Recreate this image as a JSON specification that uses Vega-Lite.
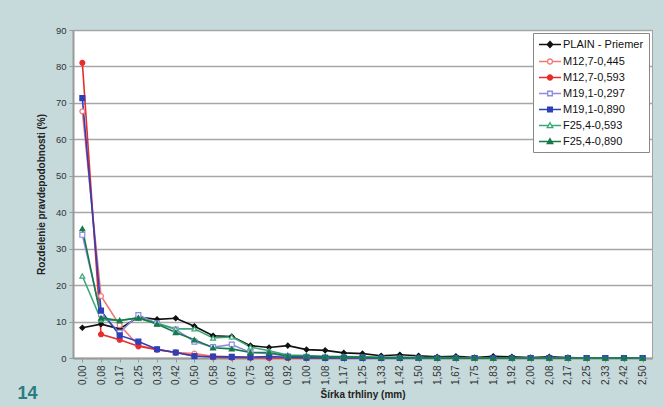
{
  "$schema": "https://vega.github.io/schema/vega-lite/v6.json",
  "width": 579,
  "height": 328,
  "autosize": {"type": "none"},
  "padding": {"left": 73, "top": 30, "right": 12, "bottom": 49},
  "background": "#c6dadb",
  "config": {
    "font": "Liberation Sans",
    "view": {"fill": "white", "stroke": "#a0a0a0", "strokeWidth": 1},
    "axisY": {"domainColor": "#999999", "domainWidth": 2, "gridColor": "#a6a6a6", "gridWidth": 1.5, "tickColor": "#999999", "tickSize": 4, "labelFontSize": 9.5, "labelColor": "#333333", "labelPadding": 3, "titleFontSize": 10, "titleFontWeight": "bold", "titleColor": "#222222", "titlePadding": 9},
    "axisX": {"domainColor": "#999999", "domainWidth": 2, "tickColor": "#999999", "tickSize": 4, "labelAngle": -90, "labelFontSize": 10, "labelColor": "#333333", "labelPadding": 3, "titleFontSize": 10, "titleFontWeight": "bold", "titleColor": "#222222", "titlePadding": 5, "grid": false},
    "legend": {"orient": "top-right", "offset": 3, "fillColor": "white", "strokeColor": "#888888", "padding": 5, "labelFont": "Liberation Sans", "labelFontSize": 11, "labelColor": "#111111", "symbolSize": 121, "symbolStrokeWidth": 1.4, "symbolOffset": 5.5, "labelOffset": 6.5, "rowPadding": 4, "symbolOpacity": 1}
  },
  "title": {"text": "14", "orient": "bottom", "anchor": "start", "color": "#2b7d82", "fontSize": 18, "fontWeight": "bold", "font": "Liberation Sans", "offset": 0, "dx": -19, "dy": -14},
  "data": {"values": [
    {"x":"0,00","s":"PLAIN - Priemer","v":8.3},{"x":"0,08","s":"PLAIN - Priemer","v":9.3},{"x":"0,17","s":"PLAIN - Priemer","v":8.0},{"x":"0,25","s":"PLAIN - Priemer","v":11.2},{"x":"0,33","s":"PLAIN - Priemer","v":10.6},{"x":"0,42","s":"PLAIN - Priemer","v":10.9},{"x":"0,50","s":"PLAIN - Priemer","v":8.7},{"x":"0,58","s":"PLAIN - Priemer","v":6.1},{"x":"0,67","s":"PLAIN - Priemer","v":5.9},{"x":"0,75","s":"PLAIN - Priemer","v":3.4},{"x":"0,83","s":"PLAIN - Priemer","v":2.9},{"x":"0,92","s":"PLAIN - Priemer","v":3.4},{"x":"1,00","s":"PLAIN - Priemer","v":2.3},{"x":"1,08","s":"PLAIN - Priemer","v":2.1},{"x":"1,17","s":"PLAIN - Priemer","v":1.4},{"x":"1,25","s":"PLAIN - Priemer","v":1.2},{"x":"1,33","s":"PLAIN - Priemer","v":0.6},{"x":"1,42","s":"PLAIN - Priemer","v":0.9},{"x":"1,50","s":"PLAIN - Priemer","v":0.6},{"x":"1,58","s":"PLAIN - Priemer","v":0.3},{"x":"1,67","s":"PLAIN - Priemer","v":0.5},{"x":"1,75","s":"PLAIN - Priemer","v":0.1},{"x":"1,83","s":"PLAIN - Priemer","v":0.5},{"x":"1,92","s":"PLAIN - Priemer","v":0.3},{"x":"2,00","s":"PLAIN - Priemer","v":0.1},{"x":"2,08","s":"PLAIN - Priemer","v":0.3},{"x":"2,17","s":"PLAIN - Priemer","v":0.1},{"x":"2,25","s":"PLAIN - Priemer","v":0},{"x":"2,33","s":"PLAIN - Priemer","v":0},{"x":"2,42","s":"PLAIN - Priemer","v":0},{"x":"2,50","s":"PLAIN - Priemer","v":0},
    {"x":"0,00","s":"M12,7-0,445","v":67.7},{"x":"0,08","s":"M12,7-0,445","v":17},{"x":"0,17","s":"M12,7-0,445","v":9},{"x":"0,25","s":"M12,7-0,445","v":3.5},{"x":"0,33","s":"M12,7-0,445","v":2.3},{"x":"0,42","s":"M12,7-0,445","v":1.5},{"x":"0,50","s":"M12,7-0,445","v":1.2},{"x":"0,58","s":"M12,7-0,445","v":0.5},{"x":"0,67","s":"M12,7-0,445","v":0.3},{"x":"0,75","s":"M12,7-0,445","v":0.2},{"x":"0,83","s":"M12,7-0,445","v":0.1},{"x":"0,92","s":"M12,7-0,445","v":0},{"x":"1,00","s":"M12,7-0,445","v":0},{"x":"1,08","s":"M12,7-0,445","v":0},{"x":"1,17","s":"M12,7-0,445","v":0},{"x":"1,25","s":"M12,7-0,445","v":0},{"x":"1,33","s":"M12,7-0,445","v":0},{"x":"1,42","s":"M12,7-0,445","v":0},{"x":"1,50","s":"M12,7-0,445","v":0},{"x":"1,58","s":"M12,7-0,445","v":0},{"x":"1,67","s":"M12,7-0,445","v":0},{"x":"1,75","s":"M12,7-0,445","v":0},{"x":"1,83","s":"M12,7-0,445","v":0},{"x":"1,92","s":"M12,7-0,445","v":0},{"x":"2,00","s":"M12,7-0,445","v":0},{"x":"2,08","s":"M12,7-0,445","v":0},{"x":"2,17","s":"M12,7-0,445","v":0},{"x":"2,25","s":"M12,7-0,445","v":0},{"x":"2,33","s":"M12,7-0,445","v":0},{"x":"2,42","s":"M12,7-0,445","v":0},{"x":"2,50","s":"M12,7-0,445","v":0},
    {"x":"0,00","s":"M12,7-0,593","v":81},{"x":"0,08","s":"M12,7-0,593","v":6.5},{"x":"0,17","s":"M12,7-0,593","v":5.0},{"x":"0,25","s":"M12,7-0,593","v":3.2},{"x":"0,33","s":"M12,7-0,593","v":2.3},{"x":"0,42","s":"M12,7-0,593","v":1.5},{"x":"0,50","s":"M12,7-0,593","v":0.6},{"x":"0,58","s":"M12,7-0,593","v":0.2},{"x":"0,67","s":"M12,7-0,593","v":0.1},{"x":"0,75","s":"M12,7-0,593","v":0.1},{"x":"0,83","s":"M12,7-0,593","v":0},{"x":"0,92","s":"M12,7-0,593","v":0},{"x":"1,00","s":"M12,7-0,593","v":0},{"x":"1,08","s":"M12,7-0,593","v":0},{"x":"1,17","s":"M12,7-0,593","v":0},{"x":"1,25","s":"M12,7-0,593","v":0},{"x":"1,33","s":"M12,7-0,593","v":0},{"x":"1,42","s":"M12,7-0,593","v":0},{"x":"1,50","s":"M12,7-0,593","v":0},{"x":"1,58","s":"M12,7-0,593","v":0},{"x":"1,67","s":"M12,7-0,593","v":0},{"x":"1,75","s":"M12,7-0,593","v":0},{"x":"1,83","s":"M12,7-0,593","v":0},{"x":"1,92","s":"M12,7-0,593","v":0},{"x":"2,00","s":"M12,7-0,593","v":0},{"x":"2,08","s":"M12,7-0,593","v":0},{"x":"2,17","s":"M12,7-0,593","v":0},{"x":"2,25","s":"M12,7-0,593","v":0},{"x":"2,33","s":"M12,7-0,593","v":0},{"x":"2,42","s":"M12,7-0,593","v":0},{"x":"2,50","s":"M12,7-0,593","v":0},
    {"x":"0,00","s":"M19,1-0,297","v":33.8},{"x":"0,08","s":"M19,1-0,297","v":12},{"x":"0,17","s":"M19,1-0,297","v":7},{"x":"0,25","s":"M19,1-0,297","v":11.8},{"x":"0,33","s":"M19,1-0,297","v":9.5},{"x":"0,42","s":"M19,1-0,297","v":7.8},{"x":"0,50","s":"M19,1-0,297","v":4.5},{"x":"0,58","s":"M19,1-0,297","v":3},{"x":"0,67","s":"M19,1-0,297","v":3.7},{"x":"0,75","s":"M19,1-0,297","v":1.5},{"x":"0,83","s":"M19,1-0,297","v":1.2},{"x":"0,92","s":"M19,1-0,297","v":0.5},{"x":"1,00","s":"M19,1-0,297","v":0.3},{"x":"1,08","s":"M19,1-0,297","v":0.2},{"x":"1,17","s":"M19,1-0,297","v":0.1},{"x":"1,25","s":"M19,1-0,297","v":0.1},{"x":"1,33","s":"M19,1-0,297","v":0},{"x":"1,42","s":"M19,1-0,297","v":0},{"x":"1,50","s":"M19,1-0,297","v":0},{"x":"1,58","s":"M19,1-0,297","v":0},{"x":"1,67","s":"M19,1-0,297","v":0},{"x":"1,75","s":"M19,1-0,297","v":0},{"x":"1,83","s":"M19,1-0,297","v":0},{"x":"1,92","s":"M19,1-0,297","v":0},{"x":"2,00","s":"M19,1-0,297","v":0},{"x":"2,08","s":"M19,1-0,297","v":0},{"x":"2,17","s":"M19,1-0,297","v":0},{"x":"2,25","s":"M19,1-0,297","v":0},{"x":"2,33","s":"M19,1-0,297","v":0},{"x":"2,42","s":"M19,1-0,297","v":0},{"x":"2,50","s":"M19,1-0,297","v":0},
    {"x":"0,00","s":"M19,1-0,890","v":71.3},{"x":"0,08","s":"M19,1-0,890","v":13},{"x":"0,17","s":"M19,1-0,890","v":6.2},{"x":"0,25","s":"M19,1-0,890","v":4.5},{"x":"0,33","s":"M19,1-0,890","v":2.4},{"x":"0,42","s":"M19,1-0,890","v":1.5},{"x":"0,50","s":"M19,1-0,890","v":0.5},{"x":"0,58","s":"M19,1-0,890","v":0.4},{"x":"0,67","s":"M19,1-0,890","v":0.3},{"x":"0,75","s":"M19,1-0,890","v":0.2},{"x":"0,83","s":"M19,1-0,890","v":0.4},{"x":"0,92","s":"M19,1-0,890","v":0.2},{"x":"1,00","s":"M19,1-0,890","v":0.1},{"x":"1,08","s":"M19,1-0,890","v":0},{"x":"1,17","s":"M19,1-0,890","v":0},{"x":"1,25","s":"M19,1-0,890","v":0},{"x":"1,33","s":"M19,1-0,890","v":0},{"x":"1,42","s":"M19,1-0,890","v":0},{"x":"1,50","s":"M19,1-0,890","v":0},{"x":"1,58","s":"M19,1-0,890","v":0},{"x":"1,67","s":"M19,1-0,890","v":0},{"x":"1,75","s":"M19,1-0,890","v":0},{"x":"1,83","s":"M19,1-0,890","v":0},{"x":"1,92","s":"M19,1-0,890","v":0},{"x":"2,00","s":"M19,1-0,890","v":0},{"x":"2,08","s":"M19,1-0,890","v":0},{"x":"2,17","s":"M19,1-0,890","v":0},{"x":"2,25","s":"M19,1-0,890","v":0},{"x":"2,33","s":"M19,1-0,890","v":0},{"x":"2,42","s":"M19,1-0,890","v":0},{"x":"2,50","s":"M19,1-0,890","v":0},
    {"x":"0,00","s":"F25,4-0,593","v":22.5},{"x":"0,08","s":"F25,4-0,593","v":10.5},{"x":"0,17","s":"F25,4-0,593","v":10.3},{"x":"0,25","s":"F25,4-0,593","v":11},{"x":"0,33","s":"F25,4-0,593","v":9.5},{"x":"0,42","s":"F25,4-0,593","v":8},{"x":"0,50","s":"F25,4-0,593","v":8},{"x":"0,58","s":"F25,4-0,593","v":5.5},{"x":"0,67","s":"F25,4-0,593","v":5.8},{"x":"0,75","s":"F25,4-0,593","v":3},{"x":"0,83","s":"F25,4-0,593","v":2},{"x":"0,92","s":"F25,4-0,593","v":0.8},{"x":"1,00","s":"F25,4-0,593","v":0.7},{"x":"1,08","s":"F25,4-0,593","v":0.5},{"x":"1,17","s":"F25,4-0,593","v":0.4},{"x":"1,25","s":"F25,4-0,593","v":0.3},{"x":"1,33","s":"F25,4-0,593","v":0.2},{"x":"1,42","s":"F25,4-0,593","v":0.2},{"x":"1,50","s":"F25,4-0,593","v":0.1},{"x":"1,58","s":"F25,4-0,593","v":0.1},{"x":"1,67","s":"F25,4-0,593","v":0.1},{"x":"1,75","s":"F25,4-0,593","v":0},{"x":"1,83","s":"F25,4-0,593","v":0},{"x":"1,92","s":"F25,4-0,593","v":0},{"x":"2,00","s":"F25,4-0,593","v":0},{"x":"2,08","s":"F25,4-0,593","v":0},{"x":"2,17","s":"F25,4-0,593","v":0},{"x":"2,25","s":"F25,4-0,593","v":0},{"x":"2,33","s":"F25,4-0,593","v":0},{"x":"2,42","s":"F25,4-0,593","v":0},{"x":"2,50","s":"F25,4-0,593","v":0},
    {"x":"0,00","s":"F25,4-0,890","v":35.5},{"x":"0,08","s":"F25,4-0,890","v":11},{"x":"0,17","s":"F25,4-0,890","v":10.3},{"x":"0,25","s":"F25,4-0,890","v":11},{"x":"0,33","s":"F25,4-0,890","v":9.3},{"x":"0,42","s":"F25,4-0,890","v":7},{"x":"0,50","s":"F25,4-0,890","v":5},{"x":"0,58","s":"F25,4-0,890","v":2.8},{"x":"0,67","s":"F25,4-0,890","v":2.5},{"x":"0,75","s":"F25,4-0,890","v":1.5},{"x":"0,83","s":"F25,4-0,890","v":1.5},{"x":"0,92","s":"F25,4-0,890","v":0.5},{"x":"1,00","s":"F25,4-0,890","v":0.5},{"x":"1,08","s":"F25,4-0,890","v":0.3},{"x":"1,17","s":"F25,4-0,890","v":0.3},{"x":"1,25","s":"F25,4-0,890","v":0.2},{"x":"1,33","s":"F25,4-0,890","v":0.1},{"x":"1,42","s":"F25,4-0,890","v":0.1},{"x":"1,50","s":"F25,4-0,890","v":0.1},{"x":"1,58","s":"F25,4-0,890","v":0},{"x":"1,67","s":"F25,4-0,890","v":0},{"x":"1,75","s":"F25,4-0,890","v":0},{"x":"1,83","s":"F25,4-0,890","v":0},{"x":"1,92","s":"F25,4-0,890","v":0},{"x":"2,00","s":"F25,4-0,890","v":0},{"x":"2,08","s":"F25,4-0,890","v":0},{"x":"2,17","s":"F25,4-0,890","v":0},{"x":"2,25","s":"F25,4-0,890","v":0},{"x":"2,33","s":"F25,4-0,890","v":0},{"x":"2,42","s":"F25,4-0,890","v":0},{"x":"2,50","s":"F25,4-0,890","v":0}
  ]},
  "encoding": {
    "x": {"field": "x", "type": "ordinal", "sort": null, "scale": {"type": "point", "padding": 0.5}, "title": "Šírka trhliny (mm)"},
    "y": {"field": "v", "type": "quantitative", "scale": {"domain": [0, 90], "nice": false}, "axis": {"values": [0,10,20,30,40,50,60,70,80,90]}, "title": "Rozdelenie pravdepodobnosti (%)"}
  },
  "layer": [
    {"mark": {"type": "line", "strokeWidth": 1.6},
     "encoding": {
       "color": {"field": "s", "type": "nominal", "scale": {"domain": ["PLAIN - Priemer","M12,7-0,445","M12,7-0,593","M19,1-0,297","M19,1-0,890","F25,4-0,593","F25,4-0,890"], "range": ["#111111","#f07878","#e82c2c","#8c8ce0","#2e40b8","#3aa878","#157a4a"]}, "legend": null}
     }},
    {"mark": {"type": "point", "filled": false, "opacity": 1, "size": 24, "strokeWidth": 1.2},
     "encoding": {
       "color": {"field": "s", "type": "nominal", "scale": {"domain": ["PLAIN - Priemer","M12,7-0,445","M12,7-0,593","M19,1-0,297","M19,1-0,890","F25,4-0,593","F25,4-0,890"], "range": ["#111111","#f07878","#e82c2c","#8c8ce0","#2e40b8","#3aa878","#157a4a"]}, "legend": null},
       "shape": {"field": "s", "type": "nominal", "scale": {"domain": ["PLAIN - Priemer","M12,7-0,445","M12,7-0,593","M19,1-0,297","M19,1-0,890","F25,4-0,593","F25,4-0,890"], "range": ["diamond","circle","circle","square","square","triangle-up","triangle-up"]}, "legend": null},
       "fill": {"field": "s", "type": "nominal", "scale": {"domain": ["PLAIN - Priemer","M12,7-0,445","M12,7-0,593","M19,1-0,297","M19,1-0,890","F25,4-0,593","F25,4-0,890"], "range": ["#111111","#ffffff","#e82c2c","#ffffff","#2e40b8","#ffffff","#157a4a"]}, "legend": null}
     }},
    {"transform": [{"filter": "false"}],
     "mark": {"type": "point", "filled": false, "opacity": 1, "size": 121, "strokeWidth": 1.4},
     "encoding": {
       "color": {"field": "s", "type": "nominal", "scale": {"domain": ["PLAIN - Priemer","M12,7-0,445","M12,7-0,593","M19,1-0,297","M19,1-0,890","F25,4-0,593","F25,4-0,890"], "range": ["#111111","#f07878","#e82c2c","#8c8ce0","#2e40b8","#3aa878","#157a4a"]}, "legend": {"title": null}},
       "shape": {"field": "s", "type": "nominal", "scale": {"domain": ["PLAIN - Priemer","M12,7-0,445","M12,7-0,593","M19,1-0,297","M19,1-0,890","F25,4-0,593","F25,4-0,890"], "range": [
         "M-2,0L-0.5,0M0.5,0L2,0M0,-0.55L0.5,0L0,0.55L-0.5,0Z",
         "M-2,0L-0.45,0M0.45,0L2,0M-0.45,0A0.45,0.45,0,1,0,0.45,0A0.45,0.45,0,1,0,-0.45,0Z",
         "M-2,0L-0.45,0M0.45,0L2,0M-0.45,0A0.45,0.45,0,1,0,0.45,0A0.45,0.45,0,1,0,-0.45,0Z",
         "M-2,0L-0.42,0M0.42,0L2,0M-0.42,-0.42L0.42,-0.42L0.42,0.42L-0.42,0.42Z",
         "M-2,0L-0.42,0M0.42,0L2,0M-0.42,-0.42L0.42,-0.42L0.42,0.42L-0.42,0.42Z",
         "M-2,0L-0.4,0M0.4,0L2,0M0,-0.5L0.5,0.38L-0.5,0.38Z",
         "M-2,0L-0.4,0M0.4,0L2,0M0,-0.5L0.5,0.38L-0.5,0.38Z"]}, "legend": {"title": null}},
       "fill": {"field": "s", "type": "nominal", "scale": {"domain": ["PLAIN - Priemer","M12,7-0,445","M12,7-0,593","M19,1-0,297","M19,1-0,890","F25,4-0,593","F25,4-0,890"], "range": ["#111111","#ffffff","#e82c2c","#ffffff","#2e40b8","#ffffff","#157a4a"]}, "legend": {"title": null}}
     }}
  ],
  "resolve": {"scale": {"color": "independent", "shape": "independent", "fill": "independent"}}
}
